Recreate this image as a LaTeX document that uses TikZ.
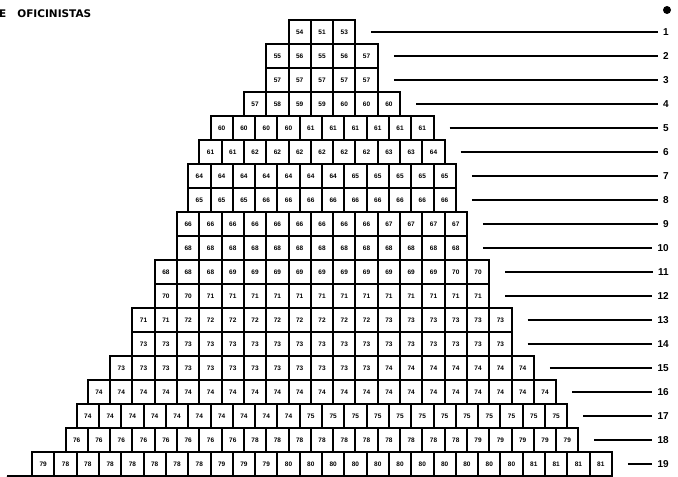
\documentclass[tikz,border=0pt]{standalone}
\usepackage{fontspec}
\setsansfont{Liberation Sans}
\newfontfamily\titlefont{DejaVu Sans}

\begin{document}
\begin{tikzpicture}[x=1pt,y=-1pt,
  casilla/.style={draw, line width=2pt, minimum width=22.3pt, minimum height=24pt, inner sep=0pt, font=\sffamily\bfseries\fontsize{6.5}{6.5}\selectfont},
  fila/.style={line width=1.9pt},
  etiqueta/.style={anchor=east, inner sep=1pt, font=\sffamily\bfseries\fontsize{10}{10}\selectfont}]
\useasboundingbox (0,0) rectangle (678,477);
\node[anchor=west, inner sep=0pt, font=\titlefont\bfseries\fontsize{10.5}{10.5}\selectfont] (titulo) at (-1,14) {E\hspace{11pt}OFICINISTAS};
\fill (667,10) circle (4);
\foreach \r/\n/\vals in {
  1/3/{54,51,53},
  2/5/{55,56,55,56,57},
  3/5/{57,57,57,57,57},
  4/7/{57,58,59,59,60,60,60},
  5/10/{60,60,60,60,61,61,61,61,61,61},
  6/11/{61,61,62,62,62,62,62,62,63,63,64},
  7/12/{64,64,64,64,64,64,64,65,65,65,65,65},
  8/12/{65,65,65,66,66,66,66,66,66,66,66,66},
  9/13/{66,66,66,66,66,66,66,66,66,67,67,67,67},
  10/13/{68,68,68,68,68,68,68,68,68,68,68,68,68},
  11/15/{68,68,68,69,69,69,69,69,69,69,69,69,69,70,70},
  12/15/{70,70,71,71,71,71,71,71,71,71,71,71,71,71,71},
  13/17/{71,71,72,72,72,72,72,72,72,72,72,73,73,73,73,73,73},
  14/17/{73,73,73,73,73,73,73,73,73,73,73,73,73,73,73,73,73},
  15/19/{73,73,73,73,73,73,73,73,73,73,73,73,74,74,74,74,74,74,74},
  16/21/{74,74,74,74,74,74,74,74,74,74,74,74,74,74,74,74,74,74,74,74,74},
  17/22/{74,74,74,74,74,74,74,74,74,74,75,75,75,75,75,75,75,75,75,75,75,75},
  18/23/{76,76,76,76,76,76,76,76,78,78,78,78,78,78,78,78,78,78,79,79,79,79,79},
  19/26/{79,78,78,78,78,78,78,78,79,79,79,80,80,80,80,80,80,80,80,80,80,80,81,81,81,81}}{
  \pgfmathsetmacro\izq{322-\n*22.3/2}
  \pgfmathsetmacro\yy{32+(\r-1)*24}
  \foreach \v [count=\k] in \vals
    \node[casilla] (c\r-\k) at ({\izq+(\k-0.5)*22.3},\yy) {\v};
  \coordinate (s\r) at ({\izq+\n*22.3+16},\yy);
  \node[etiqueta] (e\r) at (670,\yy) {\r};
  \draw[fila, shorten >=4pt] (s\r) -- (e\r.west);
}
\draw[fila] (7,476) -- (c19-26.south east);
\end{tikzpicture}
\end{document}
